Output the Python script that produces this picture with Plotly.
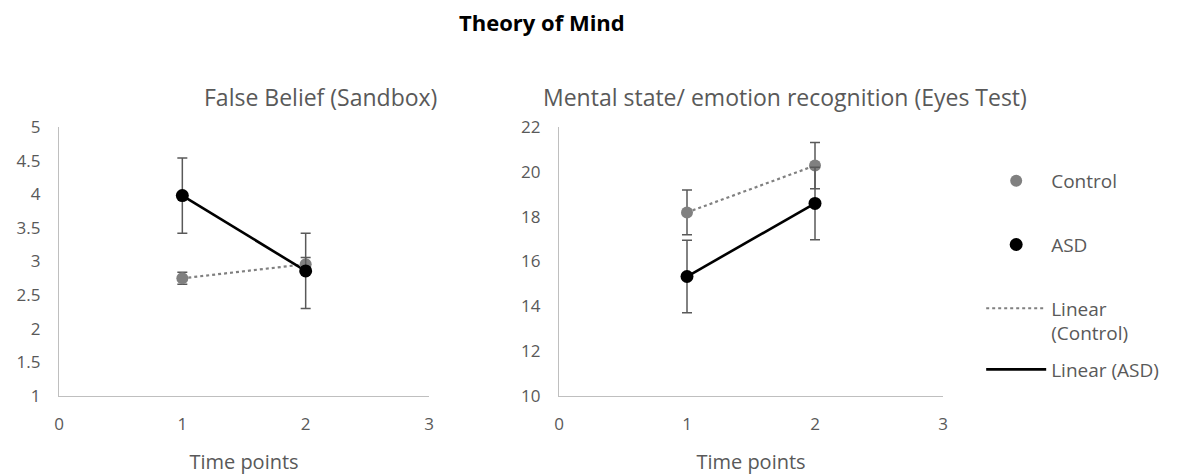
import numpy as np
import plotly.graph_objects as go

# ---- data ----
time_points = [1, 2]

fb_control = [2.75, 2.96]
fb_control_err = [0.09, 0.10]
fb_asd = [3.98, 2.86]
fb_asd_err = [0.56, 0.56]

eyes_control = [18.19, 20.28]
eyes_control_err = [1.0, 1.03]
eyes_asd = [15.33, 18.59]
eyes_asd_err = [1.62, 1.62]

x_ticks = [0, 1, 2, 3]
fb_y_ticks = [1, 1.5, 2, 2.5, 3, 3.5, 4, 4.5, 5]
eyes_y_ticks = [10, 12, 14, 16, 18, 20, 22]

main_title = "Theory of Mind"
panel_titles = ["False Belief (Sandbox)", "Mental state/ emotion recognition (Eyes Test)"]
x_title = "Time points"

FONT = "Open Sans"
GRAY_TXT = "#595959"
CTRL = "#808080"
ASD = "#000000"
ERR = "#595959"

fig = go.Figure()


def linfit(x, y):
    m, b = np.polyfit(x, y, 1)
    xs = np.array([min(x), max(x)], dtype=float)
    return xs, m * xs + b


def add_panel(xa, ya, ctrl, ctrl_err, asd, asd_err, show):
    xs, ys = linfit(time_points, ctrl)
    fig.add_trace(go.Scatter(x=xs, y=ys, mode="lines", xaxis=xa, yaxis=ya,
                             line=dict(color=CTRL, width=2.2, dash="dot"),
                             name="Linear<br>(Control)", legendrank=3, legendgroup="lc",
                             showlegend=show, hoverinfo="skip"))
    xs, ys = linfit(time_points, asd)
    fig.add_trace(go.Scatter(x=xs, y=ys, mode="lines", xaxis=xa, yaxis=ya,
                             line=dict(color=ASD, width=2.6),
                             name="Linear (ASD)", legend="legend2", legendgroup="la",
                             showlegend=show, hoverinfo="skip"))
    fig.add_trace(go.Scatter(x=time_points, y=ctrl, mode="markers", xaxis=xa, yaxis=ya,
                             marker=dict(color=CTRL, size=12),
                             error_y=dict(type="data", array=ctrl_err, color=ERR,
                                          thickness=1.5, width=5),
                             name="Control", legendrank=1, legendgroup="c", showlegend=show))
    fig.add_trace(go.Scatter(x=time_points, y=asd, mode="markers", xaxis=xa, yaxis=ya,
                             marker=dict(color=ASD, size=13),
                             error_y=dict(type="data", array=asd_err, color=ERR,
                                          thickness=1.5, width=5),
                             name="ASD", legendrank=2, legendgroup="a", showlegend=show))


add_panel("x", "y", fb_control, fb_control_err, fb_asd, fb_asd_err, True)
add_panel("x2", "y2", eyes_control, eyes_control_err, eyes_asd, eyes_asd_err, False)

W, H = 1185, 475
axis_common = dict(showgrid=False, zeroline=False, showline=True, linecolor="#bfbfbf",
                   linewidth=1.2, ticks="", automargin=False,
                   tickfont=dict(family=FONT, size=17, color=GRAY_TXT))
xtitle = dict(text=x_title, font=dict(family=FONT, size=20, color=GRAY_TXT), standoff=21)
legend_common = dict(xanchor="left", yanchor="top",
                     font=dict(family=FONT, size=19, color=GRAY_TXT),
                     traceorder="grouped", tracegroupgap=36, itemwidth=60, valign="top",
                     bgcolor="rgba(0,0,0,0)")

fig.update_layout(
    width=W, height=H,
    paper_bgcolor="white", plot_bgcolor="white",
    margin=dict(l=0, r=0, t=0, b=0),
    showlegend=True,
    legend=dict(x=0.828, y=0.659, **legend_common),
    legend2=dict(x=0.828, y=0.262, **legend_common),
    xaxis=dict(domain=[59 / W, 429 / W], range=[0, 3], tickvals=x_ticks,
               anchor="y", ticklabelstandoff=12, title=xtitle, **axis_common),
    yaxis=dict(domain=[(H - 396) / H, (H - 127) / H], range=[1, 5], tickvals=fb_y_ticks,
               anchor="x", ticklabelstandoff=14, **axis_common),
    xaxis2=dict(domain=[559 / W, 943 / W], range=[0, 3], tickvals=x_ticks,
                anchor="y2", ticklabelstandoff=12, title=xtitle, **axis_common),
    yaxis2=dict(domain=[(H - 396) / H, (H - 127) / H], range=[10, 22], tickvals=eyes_y_ticks,
                anchor="x2", ticklabelstandoff=14, **axis_common),
    annotations=[
        dict(text="<b>" + main_title + "</b>", x=542 / W, y=1 - 22 / H, xref="paper", yref="paper",
             showarrow=False, font=dict(family=FONT, size=22, color="#000000"),
             xanchor="center", yanchor="middle"),
        dict(text=panel_titles[0], x=320 / W, y=1 - 97 / H, xref="paper", yref="paper",
             showarrow=False, font=dict(family=FONT, size=23, color=GRAY_TXT),
             xanchor="center", yanchor="middle"),
        dict(text=panel_titles[1], x=785 / W, y=1 - 97 / H, xref="paper", yref="paper",
             showarrow=False, font=dict(family=FONT, size=23, color=GRAY_TXT),
             xanchor="center", yanchor="middle"),
    ],
)

fig.write_html("out.html", config={"displayModeBar": False},
               post_script="document.body.style.margin='0';")
